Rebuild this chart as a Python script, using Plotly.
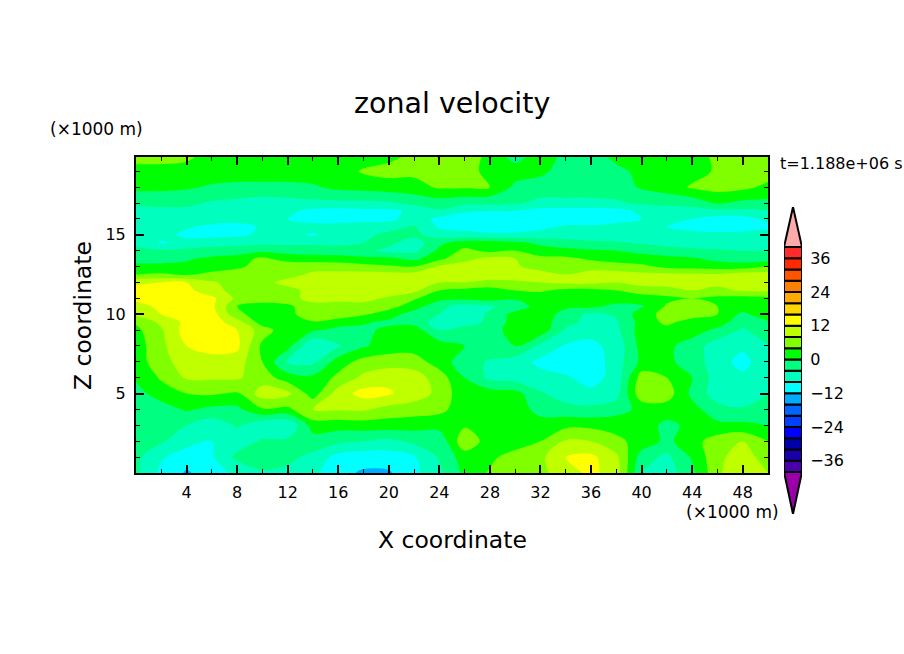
import numpy as np
import plotly.graph_objects as go

FONT = "DejaVu Sans"
WIDTH, HEIGHT = 904, 654

# Horizontal and vertical sample positions (x1000 m)
x_km = list(range(0, 51, 2))
z_km = [0, 1, 2, 3, 4, 5, 6, 7, 8, 9, 9.5, 10, 10.5, 11, 11.5, 12, 12.5, 13, 13.5,
        14, 14.5, 15, 15.5, 16, 16.5, 17, 18, 19, 19.9]

# Zonal velocity, one list per height, x = 0..50
u_z00 = [-3, -9, -12.5, -10, -7, -4.5, -5, -7, -11, -12.5, -12.5, -9, -5, 1, 4.5, 6, 7, 10, 13, 10, -4, -6, -1, 7, 12, 8]
u_z01 = [-3, -7.5, -10, -8.5, -3, -2, -3, -5, -9.5, -10.5, -10, -8.5, -3.5, 2, 3, 6, 7, 12, 13, 9, -2, -5, 0.5, 7, 10, 6]
u_z02 = [-3, -3.5, -6.5, -8, -6, -3.5, -3, -2, -3, -4, -5, -3, -3, 7, 2, 1.5, 4, 8.5, 8, 5, 2.5, -1, 2.5, 6, 8, 4]
u_z03 = [-3, -3.5, -4, -6.5, -3.5, -7, -8, 2, 1.5, 2, 2, 1.5, 1.5, 3.5, 2, 0.5, 2.5, 3, 3, 2.5, 2, -1, 1, 1, 1, 0]
u_z04 = [-3, -2, 0.5, -1, -1, 3.5, 3, 8, 8.5, 8.5, 6.5, 6, 5, 2, 3, 3, -2, -2.5, -3, -1.5, 1, 2, 1.5, -2.5, -3.5, -2]
u_z05 = [-1.5, 2, 4, 4.5, 3.5, 10, 9, 2, 10, 13.5, 12.5, 10, 7, 1, 2, 1.5, -3.5, -6, -7, -5.5, 7, 6, -1, -6, -6.5, -4]
u_z06 = [0.5, 4.5, 8.5, 8.5, 8.5, 6, 2, 1, 5, 9, 11, 10, 6, 0, -5, -6, -6.5, -7.5, -9.5, -6.5, 6, 4, 0, -6, -7, -5]
u_z07 = [2, 6.5, 10, 10, 10, 4, -4.5, -5, 2, 5.5, 6, 6, 2, -2, -4.5, -6, -9, -10, -10.5, -6, 1, 1, -2, -6, -9.5, -5]
u_z08 = [2, 7, 12, 14, 13, 3, 1.5, -8, -4.5, -0.5, 2, 2, 2, 0, -1, 0, -5, -8.5, -9, -6.5, 1.5, 1, -2, -6, -7, -4.5]
u_z09 = [3, 7.5, 14, 14, 12, 6, 1.5, 0.5, -1, -1, 1, 2, -4, -3, -2, 2, 2.5, -4.5, -6.5, -5, 2, 2.5, 2, -1, -4.5, -1]
u_z09h = [4.5, 9, 13, 14, 10, 2, 2, 3.5, 1.5, 0.5, -1, -1.5, -6, -5, -3.5, 2, 2.5, -3, -5, -4.5, 1.5, 5, 2, 2, -2.5, -0.5]
u_z10 = [9, 12, 14, 14, 5, 2, 2, 8, 7, 4.5, 2, -2, -4, -6, -3.5, 1.5, 3, -2, -5, -3.5, 2, 5.5, 6, 4, -1, 3]
u_z10h = [10.5, 13, 13.5, 13, 4, 2, 3, 7, 5.5, 7, 5.5, 2, -3, -5.5, -4.5, -2.5, 2, 1, 1, -1, -0.5, 4.5, 5, 4, 2.5, 2]
u_z11 = [13, 14, 14, 13, 7, 6.5, 7, 9, 10, 9, 7.5, 4.5, 1.5, 1, 2, 0.5, 2, 2.5, 2, 2, 2.5, 3, 4, 3, 2.5, 3]
u_z11h = [14, 13.5, 13.5, 9, 7, 6.5, 7, 9, 10.5, 10, 10, 9, 4, 3, 2.5, 4, 4.5, 3, 3, 4, 5.5, 6.5, 8, 7, 8.5, 8.5]
u_z12 = [11, 12, 12, 8.5, 6.5, 7, 9, 9.5, 10, 10, 10, 10, 8, 8, 6.5, 7, 8, 9, 9, 8, 10, 9.5, 10, 9, 10, 10]
u_z12h = [4, 4.5, 3.5, 5, 6.5, 8, 7, 8.5, 9, 9.5, 9.5, 9.5, 10, 10.5, 11, 11, 9.5, 8, 10, 10, 9, 9, 8.5, 8.5, 10, 10]
u_z13 = [1, 1, 1, 2, 3, 6, 7, 7, 6.5, 5.5, 4.5, 4, 8.5, 9.5, 9.5, 8.5, 6.5, 7, 6, 5.5, 5, 3, 2.5, 2, 2, 4]
u_z13h = [-1.5, -1.5, -0.5, 1, 2, 5, 2, 1.5, 1.5, 1, 1, -1, 3, 7, 9, 8, 5, 5, 3.5, 2.5, 1.5, 1, 0.5, -1, -2, -2]
u_z14 = [-3.5, -3.5, -3, -3, -2.5, -1, -1.5, -1.5, -2, -3, -5, -5, 1, 5, 3, 4, 2, 1, 0.5, 0, -1, -2, -3, -3.5, -4, -4]
u_z14h = [-4.5, -8.5, -6.5, -5, -5, -5, -5, -5, -5, -4, -3, -6, -1, 2, 2, 1, -1, -2, -3, -3.5, -4.5, -5.5, -6, -6.5, -6, -5]
u_z15 = [-6, -6.5, -9, -9.5, -9, -7, -6.5, -8.5, -6, -5, -3, -3, -6, -6.5, -7, -7, -6.5, -6.5, -6.5, -6.5, -6.5, -6, -6.5, -7, -6.5, -6]
u_z15h = [-6, -6, -7.5, -9, -9.5, -7.5, -6.5, -6.5, -7, -6.5, -5.5, -3.5, -8.5, -9.5, -11, -10.5, -9, -7.5, -7.5, -7, -7, -8, -9.5, -10, -10, -9]
u_z16 = [-6, -6, -6, -6, -6.5, -7, -8, -9.5, -9, -9, -9, -6, -9, -10, -10.5, -10, -9.5, -10, -10, -9, -8, -7, -8, -9.5, -9.5, -7]
u_z16h = [-5, -5, -5, -5.5, -6, -7.5, -7, -9, -9.5, -9, -9, -7, -4.5, -7.5, -8, -8, -9.5, -10, -10, -9.5, -7, -6, -5.5, -5, -5, -4.5]
u_z17 = [-3.5, -3, -3, -4.5, -5, -6, -5.5, -5, -5, -5, -4.5, -3, -2, -3, -3, -3.5, -5, -5, -5, -4.5, -3.5, -3, -2.5, 0.5, -1, -1]
u_z18 = [1, 1, 0.5, -0.5, -1, -1, -1, -0.5, 1, 1.5, 2, 2.5, 4.5, 4.5, 4, -1, -2, -2, -2, -2, 0.5, 2, 4.5, 5.5, 5, 3]
u_z19 = [3, 3, 2, 2, 2, 2, 2, 2, 2, 4.5, 5.5, 5, 4.5, 6, 2.5, 2, 1, -2, -2, -1, 1, 2, 2.5, 4.5, 6, 6]
u_z20 = [5, 5, 5, 2, 2, 2, 2, 2, 2, 2, 3, 5, 5.5, 6, 3, -1.5, 2, -1, -2, 1, 2, 2, 2, 5, 6, 6]
zonal_u = [
    u_z00, u_z01, u_z02, u_z03, u_z04, u_z05, u_z06, u_z07, u_z08, u_z09, u_z09h,
    u_z10, u_z10h, u_z11, u_z11h, u_z12, u_z12h, u_z13, u_z13h, u_z14, u_z14h,
    u_z15, u_z15h, u_z16, u_z16h, u_z17, u_z18, u_z19, u_z20,
]

# Colour bands, lowest to highest
levels = list(range(-40, 41, 4))
band_colors = [
    "#4a00aa", "#1a00aa", "#0000aa", "#0000ff", "#0040ff",
    "#0066ff", "#00aaff", "#00ffff", "#00ffbf", "#00ff80",
    "#00ff00", "#80ff00", "#bfff00", "#ffff00", "#ffd500",
    "#ffaa00", "#ff8000", "#ff5500", "#ff2a00", "#ff2a2a",
]
under_color = "#9900aa"
over_color = "#ffaaaa"
cbar_ticks = [-36, -24, -12, 0, 12, 24, 36]

x_ticks = list(range(4, 49, 4))
z_ticks = [5, 10, 15]

n_bands = len(band_colors)
colorscale = []
for i, color in enumerate(band_colors):
    colorscale.append([i / n_bands, color])
    colorscale.append([(i + 1) / n_bands, color])


def px_x(px):
    return px / WIDTH


def px_y(px):
    return 1 - px / HEIGHT


fig = go.Figure()

# Main contour panel
fig.add_trace(go.Contour(
    x=x_km, y=z_km, z=zonal_u,
    autocontour=False,
    contours=dict(start=levels[0], end=levels[-1], size=4,
                  coloring="fill", showlines=False),
    line_width=0,
    colorscale=colorscale, zmin=levels[0], zmax=levels[-1],
    showscale=False,
    xaxis="x", yaxis="y"))

# Colour bar, drawn by hand because of the triangular ends
fig.add_trace(go.Bar(
    x=[0] * n_bands, y=np.diff(levels), base=levels[:-1], width=1,
    marker=dict(color=band_colors, line=dict(color="black", width=2)),
    showlegend=False, xaxis="x2", yaxis="y2"))
over_tip = 54.2
under_tip = -54.9
fig.add_trace(go.Scatter(
    x=[-0.5, 0, 0.5, -0.5], y=[levels[-1], over_tip, levels[-1], levels[-1]],
    mode="lines", fill="toself", fillcolor=over_color,
    line=dict(color="black", width=2), showlegend=False,
    xaxis="x2", yaxis="y2"))
fig.add_trace(go.Scatter(
    x=[-0.5, 0, 0.5, -0.5], y=[levels[0], under_tip, levels[0], levels[0]],
    mode="lines", fill="toself", fillcolor=under_color,
    line=dict(color="black", width=2), showlegend=False,
    xaxis="x2", yaxis="y2"))

axis_style = dict(
    showline=True, linecolor="black", linewidth=2, mirror="allticks",
    ticks="inside", ticklen=8, tickwidth=2, tickcolor="black",
    showgrid=False, zeroline=False,
    tickfont=dict(family=FONT, size=16, color="black"),
)

annotations = [
    dict(text="zonal velocity", x=px_x(452), y=px_y(104), size=28.5),
    dict(text="(×1000 m)", x=px_x(96), y=px_y(129), size=17),
    dict(text="(×1000 m)", x=px_x(732), y=px_y(512), size=17),
    dict(text="t=1.188e+06 s", x=px_x(841), y=px_y(164), size=16),
    dict(text="X coordinate", x=px_x(452), y=px_y(540), size=23.5),
]
annotations = [
    dict(text=a["text"], x=a["x"], y=a["y"], xref="paper", yref="paper",
         showarrow=False, xanchor="center", yanchor="middle",
         font=dict(family=FONT, size=a["size"], color="black"))
    for a in annotations
]
annotations.append(dict(
    text="Z coordinate", x=px_x(83), y=px_y(316), xref="paper", yref="paper",
    showarrow=False, textangle=-90, xanchor="center", yanchor="middle",
    font=dict(family=FONT, size=23.5, color="black")))

fig.update_layout(
    width=WIDTH, height=HEIGHT,
    margin=dict(l=0, r=0, t=0, b=0),
    paper_bgcolor="white", plot_bgcolor="white",
    barmode="overlay",
    showlegend=False,
    annotations=annotations,
    xaxis=dict(
        domain=[px_x(136), px_x(768)], range=[0, 50],
        tickmode="array", tickvals=x_ticks, anchor="y", ticklabelstandoff=4,
        minor=dict(dtick=2, ticks="inside", ticklen=4, tickwidth=1, tickcolor="black"),
        **axis_style),
    yaxis=dict(
        domain=[px_y(473), px_y(157)], range=[0, 19.9],
        tickmode="array", tickvals=z_ticks, anchor="x", ticklabelstandoff=5,
        minor=dict(dtick=1, ticks="inside", ticklen=4, tickwidth=1, tickcolor="black"),
        **axis_style),
    xaxis2=dict(
        domain=[px_x(784), px_x(802)], range=[-0.5, 0.5], anchor="y2",
        visible=False, fixedrange=True),
    yaxis2=dict(
        domain=[px_y(514), px_y(207)], range=[under_tip, over_tip], anchor="x2",
        side="right", tickmode="array", tickvals=cbar_ticks,
        ticks="outside", ticklen=4, tickcolor="rgba(0,0,0,0)",
        showgrid=False, zeroline=False, showline=False,
        tickfont=dict(family=FONT, size=16, color="black")),
)

fig.write_html("out.html", config=dict(displayModeBar=False),
               post_script="document.body.style.margin='0';")
